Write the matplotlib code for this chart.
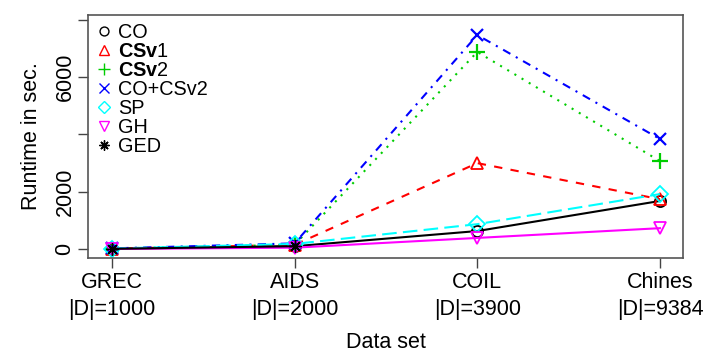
import numpy as np
import matplotlib.pyplot as plt

plt.rcParams['font.family'] = ['Liberation Sans', 'DejaVu Sans']
plt.rcParams['mathtext.fontset'] = 'custom'
plt.rcParams['mathtext.rm'] = 'Liberation Sans'
plt.rcParams['mathtext.bf'] = 'Liberation Sans:bold'

datasets = ['GREC\n|D|=1000', 'AIDS\n|D|=2000', 'COIL\n|D|=3900', 'Chines\n|D|=9384']
x = np.arange(1, 5)

co = [10, 100, 630, 1680]
csv1 = [15, 150, 3000, 1740]
csv2 = [20, 150, 6880, 3070]
co_csv2 = [25, 200, 7470, 3840]
sp = [20, 180, 870, 1920]
gh = [5, 50, 390, 730]
ged = [10, 100]

fig = plt.figure(figsize=(7.05, 3.56), dpi=100)
ax = fig.add_axes([0.1248, 0.275, 0.8440, 0.683])

ms = 9
mew = 1.3
lw = 1.5
ax.plot(x, co, color='black', ls='-', lw=lw, marker='o', mfc='none', ms=ms - 1, mew=mew, label='CO')
ax.plot(x, csv1, color='#FF0000', ls=(0, (4, 4)), lw=lw, marker='^', mfc='none', ms=ms, mew=mew, label=r'$\mathbf{CSv}$1')
ax.plot(x, csv2, color='#00CD00', ls=(0, (1, 3)), lw=lw, marker='+', ms=ms + 2, mew=mew + 0.3, label=r'$\mathbf{CSv}$2')
ax.plot(x, co_csv2, color='#0000FF', ls=(0, (1, 3, 4, 3)), lw=lw, marker='x', ms=ms, mew=mew + 0.3, label='CO+CSv2')
ax.plot(x, sp, color='#00FFFF', ls=(0, (7, 3)), lw=lw, marker='D', mfc='none', ms=ms - 1, mew=mew, label='SP')
ax.plot(x, gh, color='#FF00FF', ls='-', lw=lw, marker='v', mfc='none', ms=ms, mew=mew, label='GH')
ax.plot(x[:2], ged, color='black', ls='-', lw=lw, marker=(8, 2, 0), ms=ms, mew=1.0, label='GED')

ax.set_xlim(0.869, 4.126)
ax.set_ylim(-314, 8170)
ax.set_xticks(x)
ax.set_xticklabels(datasets, fontsize=15.5, linespacing=1.35)
ax.set_yticks([0, 2000, 4000, 6000, 8000])
ax.set_yticklabels(['0', '2000', '', '6000', ''], fontsize=15.5, rotation=90, va='center')
ax.tick_params(axis='x', direction='out', length=7, width=1, color='#444444', pad=3)
ax.tick_params(axis='y', direction='out', length=7, width=1, color='#444444', pad=2)
for s in ax.spines.values():
    s.set_color('#555555')
    s.set_linewidth(1.2)

ax.set_xlabel('Data set', fontsize=15.5, labelpad=9)
ax.set_ylabel('Runtime in sec.', fontsize=15.5, labelpad=9)

ax.legend(loc='upper left', frameon=False, fontsize=14.3, handlelength=0.8,
          handletextpad=0.3, labelspacing=0.0, borderaxespad=0.1, borderpad=0.3,
          markerscale=0.8)
leg = ax.get_legend()
for h in leg.legend_handles:
    h.set_linestyle('none')
    h.set_markeredgewidth(1.0)

fig.savefig('out.png', dpi=100)
